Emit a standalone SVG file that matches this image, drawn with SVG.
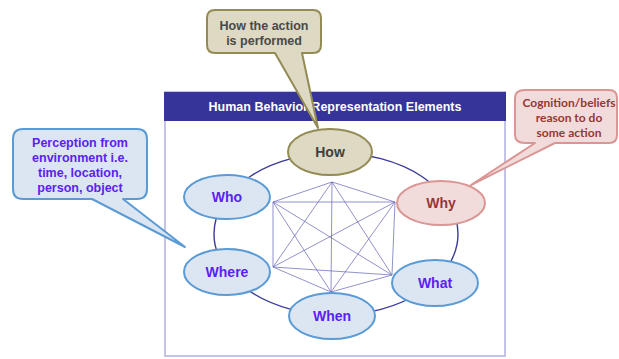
<svg xmlns="http://www.w3.org/2000/svg" width="619" height="359" viewBox="0 0 619 359">
<style>
  .t { font-family: "Liberation Sans", Arial, sans-serif; font-weight: bold; text-anchor: middle; }
  .node-blue { fill: #dce6f2; stroke: #5b9bd5; stroke-width: 2; }
  .node-tan { fill: #ddd9c3; stroke: #948a54; stroke-width: 2; }
  .node-pink { fill: #f2dcdb; stroke: #d99694; stroke-width: 2; }
  .lbl-blue { fill: #5a22f0; font-size: 14px; }
  .edge { stroke: #6c6cbc; stroke-width: 1; stroke-opacity: 0.75; fill: none; }
  .ring { stroke: #3b3b9a; stroke-width: 1.4; fill: none; }
  .call { font-size: 12.5px; }
</style>
<rect x="0" y="0" width="619" height="359" fill="#ffffff"/>

<g id="frame">
  <rect x="165" y="92" width="340" height="264" fill="#ffffff" stroke="#c3c3e6" stroke-width="2"/>
  <rect x="164" y="92" width="342" height="29" fill="#363399"/>
  <text class="t" x="335" y="110.5" font-size="12.5" fill="#ffffff">Human Behavior Representation Elements</text>
</g>

<g id="connectors">
  <ellipse class="ring" cx="336" cy="234" rx="122" ry="81"/>
  <line class="edge" x1="332" y1="182" x2="273" y2="202"/>
  <line class="edge" x1="332" y1="182" x2="395" y2="202"/>
  <line class="edge" x1="332" y1="182" x2="273" y2="267"/>
  <line class="edge" x1="332" y1="182" x2="392" y2="275"/>
  <line class="edge" x1="332" y1="182" x2="331" y2="292"/>
  <line class="edge" x1="273" y1="202" x2="395" y2="202"/>
  <line class="edge" x1="273" y1="202" x2="273" y2="267"/>
  <line class="edge" x1="273" y1="202" x2="392" y2="275"/>
  <line class="edge" x1="273" y1="202" x2="331" y2="292"/>
  <line class="edge" x1="395" y1="202" x2="273" y2="267"/>
  <line class="edge" x1="395" y1="202" x2="392" y2="275"/>
  <line class="edge" x1="395" y1="202" x2="331" y2="292"/>
  <line class="edge" x1="273" y1="267" x2="392" y2="275"/>
  <line class="edge" x1="273" y1="267" x2="331" y2="292"/>
  <line class="edge" x1="392" y1="275" x2="331" y2="292"/>
</g>

<g id="how">
  <ellipse class="node-tan" cx="330" cy="152" rx="42" ry="23"/>
  <text class="t" x="330" y="157" font-size="14" fill="#404040">How</text>
</g>
<g id="who">
  <ellipse class="node-blue" cx="227" cy="197" rx="43" ry="22"/>
  <text class="t lbl-blue" x="227" y="202">Who</text>
</g>
<g id="why">
  <ellipse class="node-pink" cx="441" cy="203" rx="44" ry="22"/>
  <text class="t" x="441" y="208" font-size="14" fill="#953735">Why</text>
</g>
<g id="where">
  <ellipse class="node-blue" cx="227" cy="272" rx="43" ry="23"/>
  <text class="t lbl-blue" x="227" y="277">Where</text>
</g>
<g id="what">
  <ellipse class="node-blue" cx="435" cy="283" rx="43" ry="23"/>
  <text class="t lbl-blue" x="435" y="288">What</text>
</g>
<g id="when">
  <ellipse class="node-blue" cx="332" cy="316" rx="43" ry="23"/>
  <text class="t lbl-blue" x="332" y="321">When</text>
</g>

<g id="callout-how">
  <path d="M215,10 H313 Q321,10 321,18 V45 Q321,53 313,53 H302 L318,128 L275,53 H215 Q207,53 207,45 V18 Q207,10 215,10 Z" fill="#ddd9c3" stroke="#948a54" stroke-width="2" stroke-linejoin="round"/>
  <text class="t call" x="264" y="29.5" fill="#4a4a4a">How the action</text>
  <text class="t call" x="264" y="45" fill="#4a4a4a">is performed</text>
</g>

<g id="callout-who">
  <path d="M23,129 H137 Q147,129 147,139 V189 Q147,199 137,199 H123 L185,247 L92,199 H23 Q13,199 13,189 V139 Q13,129 23,129 Z" fill="#dce6f2" stroke="#5b9bd5" stroke-width="2" stroke-linejoin="round"/>
  <text class="t call" x="80" y="147" fill="#5a22f0">Perception from</text>
  <text class="t call" x="80" y="162" fill="#5a22f0">environment i.e.</text>
  <text class="t call" x="80" y="177" fill="#5a22f0">time, location,</text>
  <text class="t call" x="80" y="192" fill="#5a22f0">person, object</text>
</g>

<g id="callout-why">
  <path d="M525,90 H609 Q617,90 617,98 V135 Q617,143 609,143 H555 L471,185 L535,143 H525 Q515,143 515,135 V98 Q515,90 525,90 Z" fill="#f2dcdb" stroke="#d99694" stroke-width="2" stroke-linejoin="round"/>
  <text x="569" y="107" font-family="Lato, 'Open Sans', sans-serif" font-weight="bold" font-size="12" text-anchor="middle" fill="#953735">Cognition/beliefs</text>
  <text x="569" y="122" font-family="Lato, 'Open Sans', sans-serif" font-weight="bold" font-size="12" text-anchor="middle" fill="#953735">reason to do</text>
  <text x="569" y="137" font-family="Lato, 'Open Sans', sans-serif" font-weight="bold" font-size="12" text-anchor="middle" fill="#953735">some action</text>
</g>
</svg>
